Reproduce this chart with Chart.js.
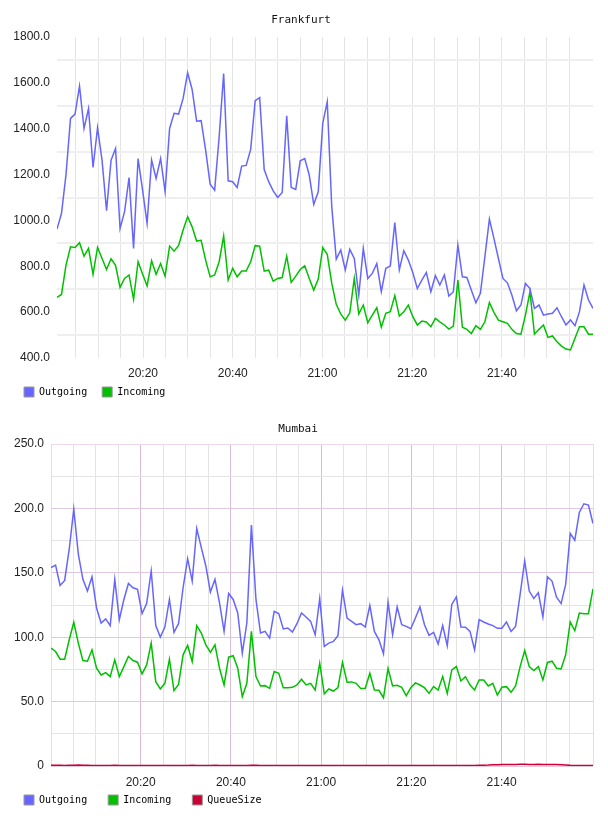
<!DOCTYPE html>
<html>
<head>
<meta charset="utf-8">
<title>Frankfurt / Mumbai</title>
<script src="https://cdn.jsdelivr.net/npm/chart.js@4.4.1/dist/chart.umd.min.js"></script>
<style>
    html, body { margin: 0; padding: 0; background: #fff; overflow: hidden; width: 608px; height: 816px; }
    .box { position: absolute; left: 0; width: 608px; }
    #boxTop { top: 0; height: 417px; }
    #boxBottom { top: 407px; height: 424px; }
</style>
</head>
<body>
<div class="box" id="boxTop"><canvas id="frankfurtChart"></canvas></div>
<div class="box" id="boxBottom"><canvas id="mumbaiChart"></canvas></div>

<script>
// ============================
// Data (minutes after 20:00)
// ============================
const fraFirstMinute = 0.83;
const fraInterval = 1.004;
const mumFirstMinute = 0.12;
const mumInterval = 1.0096;

const fraOutgoing = [
    962, 1031, 1200, 1445, 1464, 1586, 1401, 1488, 1231, 1404,
    1263, 1042, 1263, 1314, 965, 1038, 1187, 878, 1270, 1132,
    987, 1263, 1183, 1270, 1125, 1401, 1467, 1464, 1532, 1644,
    1571, 1433, 1435, 1307, 1158, 1132, 1365, 1641, 1173, 1169,
    1144, 1237, 1240, 1310, 1522, 1536, 1222, 1169, 1129, 1100,
    1122, 1456, 1144, 1135, 1260, 1270, 1198, 1070, 1125, 1423,
    1517, 1060, 831, 871, 784, 874, 834, 674, 878, 747,
    769, 812, 689, 791, 801, 991, 784, 868, 827, 772,
    703, 740, 773, 689, 759, 718, 762, 670, 689, 892,
    754, 751, 696, 641, 682, 842, 1006, 922, 834, 747,
    728, 674, 606, 631, 725, 703, 616, 631, 587, 592,
    595, 619, 580, 544, 566, 541, 602, 718, 653, 616
];

const fraIncoming = [
    664, 677, 805, 885, 882, 903, 844, 878, 765, 882,
    834, 786, 833, 804, 708, 747, 762, 656, 820, 766,
    714, 824, 765, 812, 757, 888, 866, 891, 958, 1016,
    972, 910, 913, 827, 754, 762, 820, 932, 740, 791,
    754, 779, 779, 820, 890, 888, 779, 783, 735, 747,
    751, 844, 730, 757, 786, 802, 747, 696, 744, 882,
    852, 725, 634, 592, 565, 597, 747, 592, 631, 554,
    587, 619, 534, 595, 602, 672, 583, 602, 631, 580,
    544, 561, 557, 536, 573, 558, 544, 526, 539, 740,
    534, 525, 507, 541, 525, 558, 642, 599, 565, 558,
    551, 525, 507, 504, 587, 689, 504, 525, 544, 490,
    496, 471, 452, 439, 435, 486, 536, 536, 504, 504
];

const mumOutgoing = [
    154, 156, 140.2, 144.1, 168.3, 199.5, 164.4, 144.9, 135.8, 146.9,
    122.7, 111, 114.2, 109, 144.9, 113.6, 129.3, 141.7, 138.4, 137.1,
    118.3, 126.1, 151.4, 109, 100.1, 107.9, 129.3, 103.8, 110.5, 138.4,
    161, 143.6, 184.4, 169.6, 155.3, 135, 144.9, 126.7, 104.5, 133.9,
    129.3, 118.8, 87.6, 111, 187, 129.3, 103.2, 104.5, 99.3, 120.1,
    118.3, 106.4, 107.1, 104, 110.5, 118.8, 115.7, 112.3, 101.9, 130,
    92.8, 95.4, 96.7, 101.2, 136.5, 114.9, 112.3, 109.7, 110.5, 107.9,
    124.6, 104.5, 98, 87.1, 127.2, 101.9, 123.5, 109.7, 108.4, 106.6,
    114.9, 123.5, 109.7, 101.4, 103.8, 94.7, 109, 93.4, 125.4, 131.3,
    107.9, 107.7, 104.5, 90.2, 113.6, 111.8, 110.3, 109, 106.9, 106.9,
    111.8, 104.5, 108.4, 133.2, 159.2, 135.8, 130, 134.5, 115.7, 146.9,
    143.6, 131.1, 126.1, 141, 180.5, 175.3, 196.9, 203.6, 202.6, 188.3
];

const mumIncoming = [
    91.5, 88.9, 82.9, 82.9, 98, 111.6, 95.4, 81.9, 81.4, 90.2,
    75.9, 70.7, 72.5, 69.4, 82.4, 69.4, 77.2, 85, 81.9, 80.6,
    71.5, 78.5, 95.4, 65.5, 59.8, 64.2, 82.9, 58.5, 63.4, 86.3,
    93.6, 81.1, 109, 103.2, 94.1, 88.2, 94.1, 75.9, 62.9, 84.5,
    85.6, 75.9, 53.8, 64.2, 104.5, 69.4, 62.1, 62.4, 60.3, 73.3,
    72, 60.8, 60.8, 61.1, 62.9, 67.3, 62.9, 64.2, 59, 79.8,
    56, 59.8, 58.2, 60.8, 80.4, 65, 65.3, 64.2, 60.1, 60.3,
    72, 59, 58.8, 53, 75.7, 62.1, 62.7, 61.1, 54.6, 60.8,
    64.5, 62.9, 60.8, 56.4, 61.6, 59, 69.4, 56.4, 74.6, 77.2,
    66, 69.4, 62.9, 59, 66.8, 66.8, 62.1, 64.2, 55.1, 61.1,
    61.6, 57.2, 62.1, 77.2, 89.7, 77.2, 74.1, 77.2, 66.8, 80.4,
    81.4, 75.9, 75.4, 86.3, 111.8, 105, 118.8, 118.3, 118.3, 137.6
];

const mumQueueSize = [
    0.5, 0.6, 0.5, 0.4, 0.5, 0.6, 0.7, 0.6, 0.5, 0.4,
    0.4, 0.3, 0.3, 0.4, 0.5, 0.4, 0.3, 0.3, 0.4, 0.4,
    0.3, 0.3, 0.4, 0.3, 0.3, 0.4, 0.4, 0.3, 0.3, 0.4,
    0.4, 0.5, 0.4, 0.3, 0.3, 0.4, 0.5, 0.4, 0.3, 0.3,
    0.4, 0.3, 0.3, 0.4, 0.5, 0.5, 0.4, 0.3, 0.3, 0.3,
    0.3, 0.4, 0.4, 0.3, 0.3, 0.3, 0.4, 0.3, 0.3, 0.4,
    0.3, 0.3, 0.4, 0.4, 0.3, 0.3, 0.3, 0.4, 0.3, 0.3,
    0.4, 0.3, 0.3, 0.3, 0.4, 0.3, 0.3, 0.3, 0.4, 0.3,
    0.3, 0.3, 0.4, 0.3, 0.3, 0.3, 0.3, 0.3, 0.4, 0.3,
    0.3, 0.3, 0.4, 0.4, 0.5, 0.6, 0.7, 0.9, 1.0, 1.1,
    1.1, 1.2, 1.2, 1.3, 1.3, 1.2, 1.2, 1.3, 1.2, 1.2,
    1.1, 1.1, 1.0, 0.8, 0.5, 0.4, 0.3, 0.3, 0.3, 0.3
];

// grid every 5 min, label every 20 min
const gridMinutes = [5, 10, 15, 20, 25, 30, 35, 40, 45, 50, 55, 60,
    65, 70, 75, 80, 85, 90, 95, 100, 105, 110, 115];
const fraYTicks = [400, 500, 600, 700, 800, 900, 1000, 1100, 1200,
    1300, 1400, 1500, 1600, 1700, 1800];
const mumYTicks = [0, 25, 50, 75, 100, 125, 150, 175, 200, 225, 250];

const fraTimes = fraOutgoing.map((v, i) => fraFirstMinute + i * fraInterval);
const mumTimes = mumOutgoing.map((v, i) => mumFirstMinute + i * mumInterval);

// ============================
// Helpers
// ============================
const BLUE = "#6666ff";
const GREEN = "#00c000";
const RED = "#cc0033";
const tickFont = { family: "'Liberation Sans', Arial, sans-serif", size: 12 };
const monoFont = { family: "'DejaVu Sans Mono', monospace", size: 10 };

function fmtTime(m) {
    const h = 20 + Math.floor(m / 60);
    const mm = Math.round(m % 60);
    return h + ":" + (mm < 10 ? "0" + mm : mm);
}

function asTicks(list) {
    return list.map(v => ({ value: v }));
}

function lineSet(label, data, color) {
    return {
        label: label,
        data: data,
        borderColor: color,
        backgroundColor: color,
        borderWidth: 1.5,
        pointRadius: 0,
        tension: 0
    };
}

function legendOpts(pad) {
    return {
        position: "bottom",
        align: "start",
        labels: {
            boxWidth: 10,
            boxHeight: 10,
            padding: pad,
            color: "#000",
            font: monoFont,
            generateLabels: chart =>
                Chart.defaults.plugins.legend.labels.generateLabels(chart)
                    .map(l => Object.assign(l, { strokeStyle: "#999", lineWidth: 1 }))
        }
    };
}

function titleOpts(text, top, bottom) {
    return {
        display: true,
        text: text,
        color: "#111",
        font: { family: "'DejaVu Sans Mono', monospace", size: 11, weight: "normal", lineHeight: 1.2 },
        padding: { top: top, bottom: bottom }
    };
}

// legend padding also spaces the items apart; move the row back up
const legendShift = {
    id: "legendShift",
    afterLayout(chart, args, opts) {
        const lg = chart.legend;
        if (!lg || !opts.dy) return;
        lg.top += opts.dy;
        lg.bottom += opts.dy;
    }
};

// ============================
// Frankfurt
// ============================
new Chart(document.getElementById("frankfurtChart"), {
    type: "line",
    data: {
        labels: fraTimes,
        datasets: [
            lineSet("Outgoing", fraOutgoing, BLUE),
            lineSet("Incoming", fraIncoming, GREEN)
        ]
    },
    plugins: [legendShift],
    options: {
        responsive: true,
        maintainAspectRatio: false,
        animation: false,
        devicePixelRatio: 1,
        layout: { padding: { left: 9, right: 15, top: 0, bottom: 0 } },
        plugins: {
            title: titleOpts("Frankfurt", 13.4, 10.4),
            legend: legendOpts(15),
            legendShift: { dy: -10 },
            tooltip: { enabled: false }
        },
        scales: {
            x: {
                type: "linear",
                min: fraTimes[0],
                max: fraTimes[fraTimes.length - 1],
                afterBuildTicks: s => { s.ticks = asTicks(gridMinutes); },
                afterFit: s => { s.height = 24; },
                ticks: {
                    autoSkip: false,
                    maxRotation: 0,
                    padding: 8,
                    color: "#222",
                    font: tickFont,
                    callback: v => (v % 20 === 0 ? fmtTime(v) : "")
                },
                grid: { color: "#e4e4e4", lineWidth: 1, drawTicks: false },
                border: { display: false }
            },
            y: {
                min: 400,
                max: 1800,
                afterBuildTicks: s => { s.ticks = asTicks(fraYTicks); },
                afterFit: s => { s.width = 48; },
                ticks: {
                    autoSkip: false,
                    padding: 7,
                    color: "#222",
                    font: tickFont,
                    callback: v => (v % 200 === 0 ? v.toFixed(1) : "")
                },
                grid: {
                    drawTicks: false,
                    lineWidth: 2,
                    color: c => (c.tick && c.tick.value % 200 !== 0 ? "#efefef" : "rgba(0,0,0,0)")
                },
                border: { display: false }
            }
        }
    }
});

// ============================
// Mumbai
// ============================
const mumMin = mumTimes[0];
const mumMax = mumTimes[mumTimes.length - 1];

new Chart(document.getElementById("mumbaiChart"), {
    type: "line",
    data: {
        labels: mumTimes,
        datasets: [
            lineSet("Outgoing", mumOutgoing, BLUE),
            lineSet("Incoming", mumIncoming, GREEN),
            lineSet("QueueSize", mumQueueSize, RED)
        ]
    },
    plugins: [legendShift],
    options: {
        responsive: true,
        maintainAspectRatio: false,
        animation: false,
        devicePixelRatio: 1,
        layout: { padding: { left: 3, right: 15, top: 0, bottom: 0 } },
        plugins: {
            title: titleOpts("Mumbai", 15.4, 8.4),
            legend: legendOpts(21),
            legendShift: { dy: -16 },
            tooltip: { enabled: false }
        },
        scales: {
            x: {
                type: "linear",
                min: mumMin,
                max: mumMax,
                afterBuildTicks: s => { s.ticks = asTicks([mumMin].concat(gridMinutes, [mumMax])); },
                afterFit: s => { s.height = 24; },
                ticks: {
                    autoSkip: false,
                    maxRotation: 0,
                    padding: 9.4,
                    color: "#222",
                    font: tickFont,
                    callback: v => (v % 20 === 0 ? fmtTime(v) : "")
                },
                grid: {
                    drawTicks: false,
                    lineWidth: 1,
                    color: c => {
                        const v = c.tick ? c.tick.value : 0;
                        if (v === mumMin || v === mumMax) return "#ecd8ec";
                        if (v % 20 === 0) return "#d8bcd8";
                        return "#e4e4e4";
                    }
                },
                border: { display: false }
            },
            y: {
                min: 0,
                max: 250,
                afterBuildTicks: s => { s.ticks = asTicks(mumYTicks); },
                afterFit: s => { s.width = 48; },
                ticks: {
                    autoSkip: false,
                    padding: 7,
                    color: "#222",
                    font: tickFont,
                    callback: v => (v % 50 !== 0 ? "" : (v === 0 ? "0" : v.toFixed(1)))
                },
                grid: {
                    drawTicks: false,
                    lineWidth: 1,
                    color: c => {
                        const v = c.tick ? c.tick.value : 0;
                        if (v === 250) return "#ecd8ec";
                        if (v % 50 === 0) return "#e0c8e0";
                        return "#e4e4e4";
                    }
                },
                border: { display: false }
            }
        }
    }
});
</script>
</body>
</html>
